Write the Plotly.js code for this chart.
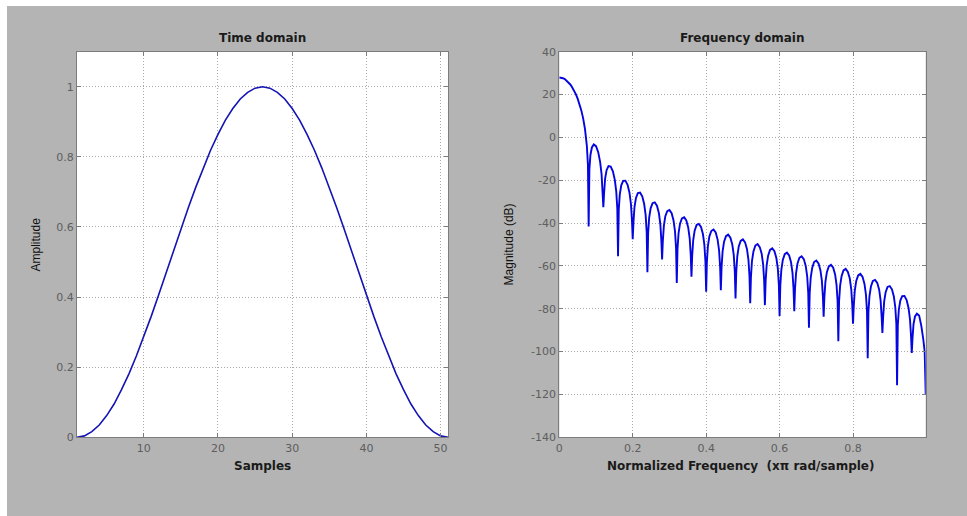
<!DOCTYPE html>
<html>
<head>
<meta charset="utf-8">
<script src="https://cdn.plot.ly/plotly-3.0.1.min.js"></script>
<style>
  html, body { margin: 0; padding: 0; background: #ffffff; width: 967px; height: 516px; overflow: hidden; }
  #chart { position: absolute; left: 7px; top: 6px; width: 960px; height: 510px; }
</style>
</head>
<body>
<div id="chart"></div>
<script>
// ---- Time domain (window samples) ----
const samples = [1,2,3,4,5,6,7,8,9,10,11,12,13,14,15,16,17,18,19,20,21,22,23,24,25,26,
  27,28,29,30,31,32,33,34,35,36,37,38,39,40,41,42,43,44,45,46,47,48,49,50,51];
const amplitude = [0,0.004,0.016,0.035,0.062,0.095,0.136,0.181,0.232,0.287,0.345,0.406,0.469,
  0.531,0.594,0.655,0.713,0.768,0.819,0.864,0.905,0.938,0.965,0.984,0.996,1.000,
  0.996,0.984,0.965,0.938,0.905,0.864,0.819,0.768,0.713,0.655,0.594,0.531,0.469,0.406,
  0.345,0.287,0.232,0.181,0.136,0.095,0.062,0.035,0.016,0.004,0];

// ---- Frequency domain (normalized frequency, x pi rad/sample) ----
const normFreq = [
  0,0.005,0.01,0.015,0.02,0.025,0.03,0.035,0.04,0.045,0.05,0.055,0.06,0.065,0.07,0.075,0.078,0.08,
  0.082,0.0848,0.0888,0.094,0.1,0.106,0.1112,0.1152,0.118,0.12,
  0.122,0.1248,0.1288,0.134,0.14,0.146,0.1512,0.1552,0.158,0.16,
  0.162,0.1648,0.1688,0.174,0.18,0.186,0.1912,0.1952,0.198,0.2,
  0.202,0.2048,0.2088,0.214,0.22,0.226,0.2312,0.2352,0.238,0.24,
  0.242,0.2448,0.2488,0.254,0.26,0.266,0.2712,0.2752,0.278,0.28,
  0.282,0.2848,0.2888,0.294,0.3,0.306,0.3112,0.3152,0.318,0.32,
  0.322,0.3248,0.3288,0.334,0.34,0.346,0.3512,0.3552,0.358,0.36,
  0.362,0.3648,0.3688,0.374,0.38,0.386,0.3912,0.3952,0.398,0.4,
  0.402,0.4048,0.4088,0.414,0.42,0.426,0.4312,0.4352,0.438,0.44,
  0.442,0.4448,0.4488,0.454,0.46,0.466,0.4712,0.4752,0.478,0.48,
  0.482,0.4848,0.4888,0.494,0.5,0.506,0.5112,0.5152,0.518,0.52,
  0.522,0.5248,0.5288,0.534,0.54,0.546,0.5512,0.5552,0.558,0.56,
  0.562,0.5648,0.5688,0.574,0.58,0.586,0.5912,0.5952,0.598,0.6,
  0.602,0.6048,0.6088,0.614,0.62,0.626,0.6312,0.6352,0.638,0.64,
  0.642,0.6448,0.6488,0.654,0.66,0.666,0.6712,0.6752,0.678,0.68,
  0.682,0.6848,0.6888,0.694,0.7,0.706,0.7112,0.7152,0.718,0.72,
  0.722,0.7248,0.7288,0.734,0.74,0.746,0.7512,0.7552,0.758,0.76,
  0.762,0.7648,0.7688,0.774,0.78,0.786,0.7912,0.7952,0.798,0.8,
  0.802,0.8048,0.8088,0.814,0.82,0.826,0.8312,0.8352,0.838,0.84,
  0.842,0.8448,0.8488,0.854,0.86,0.866,0.8712,0.8752,0.878,0.88,
  0.882,0.8848,0.8888,0.894,0.9,0.906,0.9112,0.9152,0.918,0.92,
  0.922,0.9248,0.9288,0.934,0.94,0.946,0.9512,0.9552,0.958,0.96,
  0.962,0.9648,0.9688,0.974,0.98,0.986,0.9912,0.9952,0.998
];
const magnitudeDb = [
  27.96,27.87,27.6,27.2,26.5,25.7,24.7,23.4,21.9,20.2,18.1,15.6,12.6,8.9,3.9,-3.8,-12.8,-41.6,
  -14.8,-8.2,-4.7,-3.3,-4.1,-6.9,-11.4,-17.3,-25.6,-32.6,
  -26.1,-19.2,-15.3,-13.4,-13.6,-15.8,-19.8,-25.3,-33.3,-55.5,
  -33.6,-26.6,-22.4,-20.3,-20.2,-22.1,-25.8,-31.2,-39.0,-47.5,
  -39.6,-32.5,-28.3,-26.0,-25.8,-27.5,-31.1,-36.3,-44.1,-63.0,
  -44.6,-37.5,-33.1,-30.7,-30.3,-31.9,-35.3,-40.5,-48.2,-57.0,
  -48.4,-41.3,-36.8,-34.4,-33.9,-35.4,-38.8,-43.9,-51.6,-68.0,
  -52.0,-44.8,-40.3,-37.8,-37.3,-38.8,-42.1,-47.2,-54.9,-65.0,
  -55.1,-47.9,-43.4,-40.9,-40.4,-41.8,-45.1,-50.2,-57.8,-72.0,
  -58.0,-50.7,-46.2,-43.7,-43.0,-44.4,-47.7,-52.7,-60.3,-71.3,
  -60.5,-53.2,-48.7,-46.1,-45.4,-46.8,-50.0,-55.0,-62.6,-75.2,
  -62.8,-55.5,-50.9,-48.3,-47.6,-49.0,-52.2,-57.2,-64.7,-77.4,
  -65.0,-57.7,-53.2,-50.5,-49.8,-51.2,-54.3,-59.3,-66.9,-78.3,
  -67.0,-59.7,-55.2,-52.5,-51.8,-53.1,-56.3,-61.3,-68.8,-83.4,
  -69.1,-61.8,-57.2,-54.5,-53.8,-55.1,-58.3,-63.2,-70.8,-81.1,
  -70.8,-63.5,-58.9,-56.2,-55.5,-56.8,-60.0,-64.9,-72.5,-88.9,
  -72.7,-65.4,-60.9,-58.2,-57.5,-58.8,-62.0,-67.0,-74.5,-83.7,
  -74.7,-67.4,-62.9,-60.2,-59.5,-60.8,-64.0,-69.0,-76.5,-95.2,
  -76.6,-69.3,-64.8,-62.1,-61.4,-62.8,-65.9,-70.9,-78.5,-87.0,
  -78.7,-71.5,-67.0,-64.4,-63.7,-65.1,-68.4,-73.4,-81.0,-103.1,
  -81.3,-74.1,-69.6,-67.0,-66.5,-67.9,-71.1,-76.2,-83.8,-91.3,
  -83.9,-76.7,-72.3,-69.8,-69.4,-70.9,-74.3,-79.4,-87.1,-115.7,
  -87.4,-80.4,-76.2,-74.1,-74.0,-75.9,-79.6,-85.0,-92.8,-100.6,
  -93.8,-87.2,-83.6,-82.3,-83.1,-88.0,-94.0,-100.0,-120.2
];

// ---- Tick labels ----
const timeTicks = [10,20,30,40,50];
const ampTicks = [0,0.2,0.4,0.6,0.8,1];
const ampTickText = ['0','0.2','0.4','0.6','0.8','1'];
const freqTicks = [0,0.2,0.4,0.6,0.8];
const freqTickText = ['0','0.2','0.4','0.6','0.8'];
const dbTicks = [-140,-120,-100,-80,-60,-40,-20,0,20,40];

const tickFont = {family: 'DejaVu Sans, sans-serif', size: 11, color: '#5e5e5e'};
const axisCommon = {
  showline: true, linecolor: '#7c7c7c', linewidth: 1, mirror: 'ticks',
  ticks: 'inside', ticklen: 4, tickcolor: '#7c7c7c',
  showgrid: true, gridcolor: '#a9a9a9', griddash: '1px,2px', gridwidth: 1,
  zeroline: false, tickfont: tickFont, fixedrange: true
};

const yDom = [0.1543, 0.9104];
const traces = [
  {x: samples, y: amplitude, type: 'scatter', mode: 'lines',
   line: {color: '#1414b4', width: 1.6}, xaxis: 'x', yaxis: 'y', hoverinfo: 'skip'},
  {x: normFreq, y: magnitudeDb, type: 'scatter', mode: 'lines',
   line: {color: '#0505e0', width: 1.9}, xaxis: 'x2', yaxis: 'y2', hoverinfo: 'skip'}
];

const titleFont = {family: 'DejaVu Sans, sans-serif', size: 12, color: '#1a1a1a', weight: 'bold'};
const ylabFont = {family: 'Liberation Sans, Arial, sans-serif', size: 12, color: '#111111'};

const layout = {
  width: 960, height: 510,
  margin: {l: 0, r: 0, t: 0, b: 0, pad: 0},
  paper_bgcolor: '#b4b4b4', plot_bgcolor: '#ffffff',
  showlegend: false,
  xaxis: Object.assign({}, axisCommon, {domain: [0.0729, 0.4594], range: [1, 51], anchor: 'y',
    tickmode: 'array', tickvals: timeTicks, ticktext: timeTicks.map(String)}),
  yaxis: Object.assign({}, axisCommon, {domain: yDom, range: [0, 1.1], anchor: 'x',
    tickmode: 'array', tickvals: ampTicks, ticktext: ampTickText}),
  xaxis2: Object.assign({}, axisCommon, {domain: [0.5753, 0.9570], range: [0, 0.998], anchor: 'y2',
    tickmode: 'array', tickvals: freqTicks, ticktext: freqTickText}),
  yaxis2: Object.assign({}, axisCommon, {domain: yDom, range: [-140, 40], anchor: 'x2',
    tickmode: 'array', tickvals: dbTicks, ticktext: dbTicks.map(String)}),
  annotations: [
    {text: 'Time domain', xref: 'paper', yref: 'paper', x: 0.2662, y: 0.9373,
     xanchor: 'center', yanchor: 'middle', showarrow: false, font: titleFont},
    {text: 'Frequency domain', xref: 'paper', yref: 'paper', x: 0.7662, y: 0.9373,
     xanchor: 'center', yanchor: 'middle', showarrow: false, font: titleFont},
    {text: 'Samples', xref: 'paper', yref: 'paper', x: 0.2662, y: 0.0986,
     xanchor: 'center', yanchor: 'middle', showarrow: false, font: titleFont},
    {text: 'Normalized Frequency  (x\u03c0 rad/sample)', xref: 'paper', yref: 'paper', x: 0.7643, y: 0.0986,
     xanchor: 'center', yanchor: 'middle', showarrow: false, font: titleFont},
    {text: 'Amplitude', xref: 'paper', yref: 'paper', x: 0.0302, y: 0.5324, textangle: -90,
     xanchor: 'center', yanchor: 'middle', showarrow: false, font: ylabFont},
    {text: 'Magnitude (dB)', xref: 'paper', yref: 'paper', x: 0.5229, y: 0.5324, textangle: -90,
     xanchor: 'center', yanchor: 'middle', showarrow: false, font: ylabFont}
  ]
};

Plotly.newPlot('chart', traces, layout, {staticPlot: true, displayModeBar: false});
</script>
</body>
</html>
